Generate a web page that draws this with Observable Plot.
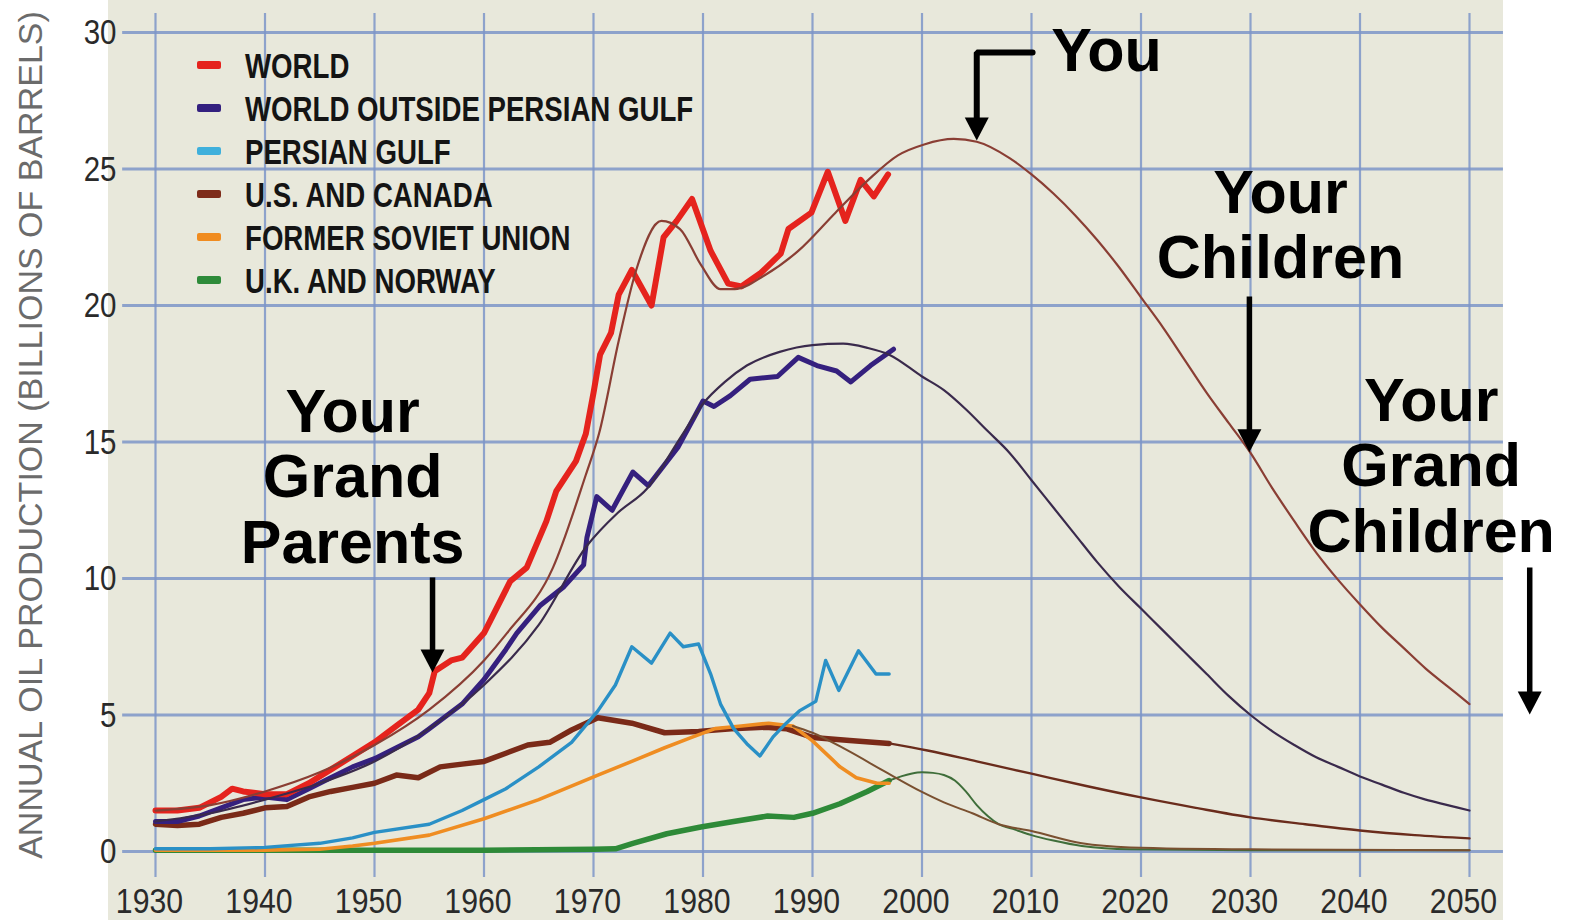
<!DOCTYPE html>
<html>
<head>
<meta charset="utf-8">
<script src="https://cdn.jsdelivr.net/npm/d3@7"></script>
<script src="https://cdn.jsdelivr.net/npm/@observablehq/plot@0.6"></script>
<style>
  html, body { margin: 0; padding: 0; background: #ffffff; }
  #chart { position: relative; width: 1571px; height: 920px; overflow: hidden; }
</style>
</head>
<body>
<div id="chart"></div>
<script>
// ---------------- DATA ----------------
const xTicks = [1930, 1940, 1950, 1960, 1970, 1980, 1990, 2000, 2010, 2020, 2030, 2040, 2050];
const yTicks = [0, 5, 10, 15, 20, 25, 30];

// WORLD (actual)
const worldYears = [1930,1932,1934,1936,1937,1938,1940,1942,1944,1946,1948,1950,1952,1954,1955,1955.5,1957,1958,1960,1962.4,1963.9,1965.7,1966.6,1968.4,1969.3,1970,1970.6,1971.6,1972.3,1973.5,1975.3,1976.4,1977.6,1979,1980.7,1982.3,1983.5,1985.3,1987.1,1987.8,1989.9,1991.4,1993,1994.4,1995.6,1996.9];
const worldValues = [1.5,1.5,1.6,2.0,2.3,2.2,2.1,2.1,2.5,3.0,3.5,4.0,4.6,5.2,5.8,6.6,7.0,7.1,8.0,9.9,10.4,12.1,13.2,14.3,15.3,16.8,18.2,19.0,20.4,21.3,20.0,22.5,23.1,23.9,22.0,20.8,20.7,21.2,21.9,22.8,23.4,24.9,23.1,24.6,24.0,24.8];
// WORLD (fitted / projected)
const worldFitYears = [1930,1935,1940,1945,1950,1955,1960,1962.1,1966.3,1969.3,1970.5,1972.3,1973.9,1976.2,1977.9,1979.8,1981.6,1982.9,1985.6,1988.7,1992.1,1995.1,1997.8,2000.2,2002.9,2005,2008,2010,2012,2014,2016,2018,2020,2022,2024,2026,2028,2030,2032,2034,2036,2038,2040,2042,2044,2046,2048,2050];
const worldFitValues = [1.5,1.7,2.2,2.9,3.9,5.2,7.0,8.0,10.4,13.8,15.3,18.7,21.3,23.1,22.8,21.5,20.6,20.6,21.1,22.0,23.4,24.6,25.5,25.9,26.1,26.0,25.4,24.8,24.1,23.3,22.4,21.4,20.3,19.2,18.0,16.8,15.7,14.6,13.3,12.1,10.95,9.95,9.05,8.2,7.45,6.7,6.05,5.4];

// WORLD OUTSIDE PERSIAN GULF
const wopgYears = [1930,1932,1934,1936,1938,1940,1942,1944,1946,1948,1950,1952,1954,1955,1956,1958,1960,1962,1963,1965.1,1967.3,1969.1,1969.4,1970.3,1971.7,1973.6,1975,1977.7,1980,1981,1982.5,1984.3,1986.8,1988.7,1990.4,1992.2,1993.5,1995.3,1997.4];
const wopgValues = [1.1,1.1,1.3,1.6,1.9,2.0,1.9,2.3,2.7,3.1,3.4,3.8,4.2,4.5,4.8,5.4,6.3,7.4,8.0,9.0,9.7,10.5,11.5,13.0,12.5,13.9,13.4,14.8,16.5,16.3,16.7,17.3,17.4,18.1,17.8,17.6,17.2,17.8,18.4];
const wopgFitYears = [1930,1935,1940,1945,1950,1955,1960,1965,1969.4,1972.2,1974.9,1978,1980,1982,1984,1987,1990,1992.8,1995,1997,2000,2002,2004,2006,2008,2010,2012,2014,2016,2018,2020,2022,2024,2026,2028,2030,2032,2034,2036,2038,2040,2042,2044,2046,2048,2050];
const wopgFitValues = [1.1,1.4,1.9,2.5,3.3,4.5,6.1,8.3,11.2,12.4,13.3,15.2,16.4,17.2,17.8,18.3,18.55,18.6,18.45,18.2,17.4,16.9,16.2,15.4,14.6,13.6,12.6,11.6,10.6,9.7,8.9,8.1,7.3,6.5,5.7,5.0,4.4,3.9,3.45,3.1,2.75,2.45,2.15,1.9,1.7,1.5];

// PERSIAN GULF
const pgYears = [1930,1935,1940,1945,1948,1950,1955,1958,1960,1962,1965,1968,1970.4,1972,1973.5,1975.3,1977,1978.2,1979.6,1980.7,1981.6,1982.8,1984,1985.2,1986.4,1987.6,1988.8,1990.3,1991.2,1992.4,1994.2,1995.8,1997];
const pgValues = [0.1,0.1,0.15,0.3,0.5,0.7,1.0,1.5,1.9,2.3,3.1,4.0,5.15,6.1,7.5,6.9,8.0,7.5,7.6,6.5,5.4,4.5,3.95,3.5,4.2,4.7,5.15,5.5,7.0,5.9,7.35,6.5,6.5];

// U.S. AND CANADA
const usYears = [1930,1932,1934,1936,1938,1940,1942,1944,1946,1948,1950,1952,1954,1956,1958,1960,1962,1964,1966,1968,1970.4,1973.5,1976.5,1979.6,1982.6,1985.7,1987.6,1990,1993.4,1997];
const usValues = [1.0,0.95,1.0,1.25,1.4,1.6,1.65,2.0,2.2,2.35,2.5,2.8,2.7,3.1,3.2,3.3,3.6,3.9,4.0,4.45,4.9,4.7,4.35,4.4,4.5,4.55,4.5,4.18,4.07,3.96];
const usFitYears = [1997,2000.5,2005,2010,2015,2020,2025,2030,2035,2040,2045,2050];
const usFitValues = [3.96,3.7,3.3,2.85,2.4,1.98,1.6,1.25,1.0,0.77,0.6,0.48];

// FORMER SOVIET UNION
const fsuYears = [1930,1940,1945,1948,1950,1955,1960,1965,1970.4,1973.5,1976.5,1978.9,1981.1,1983.5,1986,1988.2,1990,1991.6,1992.5,1994,1995.9,1997];
const fsuValues = [0.05,0.05,0.08,0.2,0.3,0.6,1.2,1.9,2.8,3.3,3.8,4.17,4.5,4.6,4.7,4.6,4.05,3.45,3.1,2.7,2.5,2.5];
const fsuFitYears = [1988.2,1990,1993.2,1996.5,1999.9,2002,2004.6,2007,2010,2014.6,2019,2030,2050];
const fsuFitValues = [4.6,4.35,3.7,2.95,2.2,1.8,1.4,1.0,0.75,0.3,0.15,0.08,0.05];

// U.K. AND NORWAY
const ukYears = [1930,1960,1970,1972,1973.6,1976.7,1979.8,1982.8,1985.9,1988.3,1990,1992.5,1995,1997];
const ukValues = [0.05,0.05,0.08,0.1,0.3,0.65,0.9,1.1,1.3,1.25,1.4,1.75,2.2,2.6];
const ukFitYears = [1997,1999,2000,2001,2002,2003,2004,2005,2006,2007,2008.5,2010,2012,2014.6,2019,2030,2050];
const ukFitValues = [2.6,2.85,2.9,2.88,2.8,2.6,2.2,1.7,1.3,1.0,0.8,0.6,0.4,0.2,0.08,0.05,0.05];

// Legend
const legendLabels = ["WORLD", "WORLD OUTSIDE PERSIAN GULF", "PERSIAN GULF", "U.S. AND CANADA", "FORMER SOVIET UNION", "U.K. AND NORWAY"];
const legendColors = ["#e5231d", "#33207f", "#3fb0dc", "#7e2c1a", "#f08c20", "#2e8b3a"];

// Annotations
const annotationLabels = ["You", "Your\nChildren", "Your\nGrand\nParents", "Your\nGrand\nChildren"];
const annotationYears  = [2016.85, 2032.74, 1948.0, 2046.5];
const annotationValues = [29.34, 22.95, 13.74, 14.14];

const arrowYears = [2029.9, 1955.3, 2055.5];
const arrowFrom  = [20.33, 10.04, 10.4];
const arrowTo    = [14.62, 6.56, 5.02];

const youBracketYears  = [2010.1, 2005.0, 2005.0];
const youBracketValues = [29.27, 29.27, 26.04];

const yLabel = "ANNUAL OIL PRODUCTION (BILLIONS OF BARRELS)";

// ---------------- BUILD ----------------
const rows = (xs, ys) => xs.map((x, i) => ({x, y: ys[i]}));

const cWorld = "#e5231d", cWopg = "#35207e", cPg = "#2a90c6", cUs = "#7a2a18", cFsu = "#ef8d22", cUk = "#2e8a38";

const tips = arrowYears.map((x, i) => ({x, y: arrowTo[i]}))
  .concat([{x: youBracketYears[2], y: youBracketValues[2]}]);
const shafts = arrowYears.map((x, i) => ({x, y1: arrowFrom[i], y2: arrowTo[i] + 0.45}));
const bracket = rows(youBracketYears, youBracketValues.map((v, i) => i === 2 ? v + 0.45 : v));
const annotations = annotationLabels.map((t, i) => ({text: t, x: annotationYears[i], y: annotationValues[i]}));

const downTriangle = {
  draw(ctx) {
    const w = 24, h = 23;
    ctx.moveTo(-w / 2, -h);
    ctx.lineTo(w / 2, -h);
    ctx.lineTo(0, 0);
    ctx.closePath();
  }
};

const gridColor = "#7d95c8";
const tickFont = "'Liberation Sans', Arial, sans-serif";
const boldFont = "'Liberation Sans', Arial, 'DejaVu Sans', sans-serif";

const chart = Plot.plot({
  width: 1571,
  height: 920,
  marginLeft: 155,
  marginRight: 102,
  marginTop: 32,
  marginBottom: 69,
  x: {domain: [1930, 2050]},
  y: {domain: [0, 30]},
  style: {background: "transparent", overflow: "visible"},
  marks: [
    // grid
    Plot.ruleX(xTicks, {x: d => d, y1: -0.95, y2: 30.7, stroke: gridColor, strokeWidth: 2.2, strokeOpacity: 0.85}),
    Plot.ruleY(yTicks, {y: d => d, x1: 1927.0, x2: 2053.1, stroke: gridColor, strokeWidth: 3, strokeOpacity: 0.85}),
    // axes
    Plot.axisX({ticks: xTicks, tickFormat: d => String(d), tickSize: 0, tickPadding: 36, dx: -6,
      fontSize: 36, fontFamily: tickFont, fill: "#2a2a2a", label: null}),
    Plot.axisY({ticks: yTicks, tickSize: 0, tickPadding: 39,
      fontSize: 36, fontFamily: tickFont, fill: "#2a2a2a", label: null}),
    // actual series
    Plot.line(rows(ukYears, ukValues), {x: "x", y: "y", stroke: cUk, strokeWidth: 5.5, strokeLinejoin: "round"}),
    Plot.line(rows(usYears, usValues), {x: "x", y: "y", stroke: cUs, strokeWidth: 5.5, strokeLinejoin: "round"}),
    Plot.line(rows(fsuYears, fsuValues), {x: "x", y: "y", stroke: cFsu, strokeWidth: 3.6, strokeLinejoin: "round"}),
    Plot.line(rows(pgYears, pgValues), {x: "x", y: "y", stroke: cPg, strokeWidth: 3.4, strokeLinejoin: "round"}),
    Plot.line(rows(wopgYears, wopgValues), {x: "x", y: "y", stroke: cWopg, strokeWidth: 5, strokeLinejoin: "round"}),
    Plot.line(rows(worldYears, worldValues), {x: "x", y: "y", stroke: cWorld, strokeWidth: 6, strokeLinejoin: "round"}),
    // fitted / projected
    Plot.line(rows(ukFitYears, ukFitValues), {x: "x", y: "y", stroke: "#3f6e3a", strokeWidth: 2, curve: "monotone-x"}),
    Plot.line(rows(fsuFitYears, fsuFitValues), {x: "x", y: "y", stroke: "#7a5030", strokeWidth: 2, curve: "monotone-x"}),
    Plot.line(rows(usFitYears, usFitValues), {x: "x", y: "y", stroke: "#6a2c1c", strokeWidth: 2.4, curve: "monotone-x"}),
    Plot.line(rows(wopgFitYears, wopgFitValues), {x: "x", y: "y", stroke: "#3a2a4c", strokeWidth: 2.2, curve: "monotone-x"}),
    Plot.line(rows(worldFitYears, worldFitValues), {x: "x", y: "y", stroke: "#8a3e34", strokeWidth: 2.2, curve: "monotone-x"}),
    // annotations
    Plot.link(shafts, {x1: "x", x2: "x", y1: "y1", y2: "y2", stroke: "black", strokeWidth: 5.5}),
    Plot.line(bracket, {x: "x", y: "y", stroke: "black", strokeWidth: 6, strokeLinejoin: "miter"}),
    Plot.dot(tips, {x: "x", y: "y", symbol: downTriangle, r: 1, fill: "black", stroke: "none"}),
    Plot.text(annotations, {x: "x", y: "y", text: "text", fontSize: 61, fontWeight: "bold", fontFamily: boldFont,
      fill: "black", textAnchor: "middle", lineAnchor: "middle", lineHeight: 1.07})
  ]
});

document.getElementById("chart").appendChild(chart);

const svg = d3.select(chart);

// condensed look for the tick labels (horizontal squeeze around each label's anchor)
function squeeze(sel, s) {
  sel.each(function () {
    const t = this.getAttribute("transform");
    if (t) {
      this.setAttribute("transform", t + ` scale(${s},1)`);
    } else {
      const x = +this.getAttribute("x") || 0, y = +this.getAttribute("y") || 0;
      this.setAttribute("x", 0); this.setAttribute("y", 0);
      this.setAttribute("transform", `translate(${x},${y}) scale(${s},1)`);
    }
  });
}
squeeze(svg.selectAll('g[aria-label="x-axis tick label"] text'), 0.84);
squeeze(svg.selectAll('g[aria-label="y-axis tick label"] text'), 0.82);

// paper-like background behind the plot
svg.insert("rect", ":first-child")
  .attr("x", 108).attr("y", 0).attr("width", 1395).attr("height", 920)
  .attr("fill", "#e8e8db");

// y-axis title
svg.append("text")
  .attr("transform", "translate(42,435) rotate(-90)")
  .attr("text-anchor", "middle")
  .attr("font-family", "'Liberation Sans', Arial, sans-serif")
  .attr("font-size", 34)
  .attr("fill", "#6b6b6b")
  .text(yLabel);

// legend
const lg = svg.append("g").attr("text-anchor", "start");
legendLabels.forEach((lab, i) => {
  const cy = 65 + i * 43;
  lg.append("rect").attr("x", 197).attr("y", cy - 4).attr("width", 24).attr("height", 8).attr("rx", 2)
    .attr("fill", legendColors[i]);
  lg.append("text")
    .attr("transform", `translate(245,${cy}) scale(0.79,1)`)
    .attr("dy", "0.36em")
    .attr("text-anchor", "start")
    .attr("font-family", "'Liberation Sans', Arial, sans-serif")
    .attr("font-weight", "bold").attr("font-size", 35).attr("fill", "#141414")
    .text(lab);
});
</script>
</body>
</html>
